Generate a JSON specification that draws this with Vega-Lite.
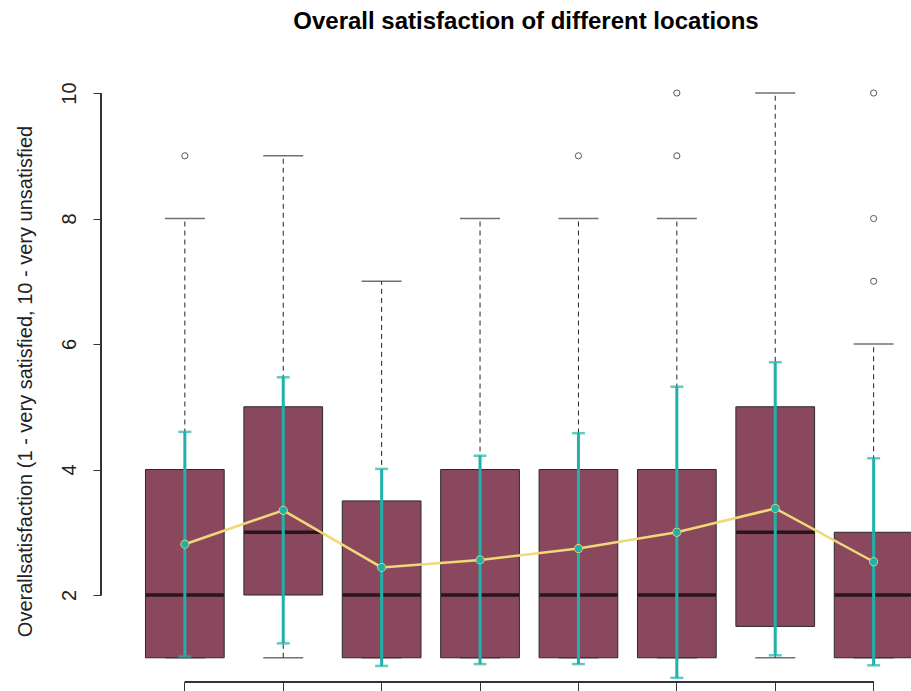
{
  "$schema": "https://vega.github.io/schema/vega-lite/v6.json",
  "autosize": "none",
  "width": 812,
  "height": 612,
  "padding": {"left": 101, "top": 70, "right": 0, "bottom": 20},
  "background": "white",
  "config": {
    "view": {"stroke": null},
    "font": "Liberation Sans"
  },
  "title": {
    "text": "Overall satisfaction of different locations",
    "fontSize": 24,
    "fontWeight": "bold",
    "font": "Liberation Sans",
    "color": "#000000",
    "anchor": "middle",
    "frame": "group",
    "dx": 19,
    "baseline": "alphabetic",
    "offset": 17
  },
  "datasets": {
    "boxes": [
      {"loc": "1", "lo": 1, "q1": 1, "median": 2, "q3": 4, "hi": 8, "mean": 2.81, "sdLo": 1.02, "sdHi": 4.60},
      {"loc": "2", "lo": 1, "q1": 2, "median": 3, "q3": 5, "hi": 9, "mean": 3.35, "sdLo": 1.23, "sdHi": 5.47},
      {"loc": "3", "lo": 1, "q1": 1, "median": 2, "q3": 3.5, "hi": 7, "mean": 2.44, "sdLo": 0.87, "sdHi": 4.01},
      {"loc": "4", "lo": 1, "q1": 1, "median": 2, "q3": 4, "hi": 8, "mean": 2.56, "sdLo": 0.90, "sdHi": 4.22},
      {"loc": "5", "lo": 1, "q1": 1, "median": 2, "q3": 4, "hi": 8, "mean": 2.74, "sdLo": 0.90, "sdHi": 4.58},
      {"loc": "6", "lo": 1, "q1": 1, "median": 2, "q3": 4, "hi": 8, "mean": 3.00, "sdLo": 0.68, "sdHi": 5.32},
      {"loc": "7", "lo": 1, "q1": 1.5, "median": 3, "q3": 5, "hi": 10, "mean": 3.38, "sdLo": 1.04, "sdHi": 5.71},
      {"loc": "8", "lo": 1, "q1": 1, "median": 2, "q3": 3, "hi": 6, "mean": 2.53, "sdLo": 0.88, "sdHi": 4.18}
    ],
    "outliers": [
      {"loc": "1", "value": 9},
      {"loc": "5", "value": 9},
      {"loc": "6", "value": 9},
      {"loc": "6", "value": 10},
      {"loc": "8", "value": 7},
      {"loc": "8", "value": 8},
      {"loc": "8", "value": 10}
    ]
  },
  "data": {"name": "boxes"},
  "encoding": {
    "x": {
      "field": "loc",
      "type": "ordinal",
      "sort": null,
      "scale": {"paddingInner": 0.2, "paddingOuter": 0.226, "align": 1},
      "axis": {
        "title": null,
        "labels": false,
        "domain": false,
        "ticks": true,
        "tickSize": 12,
        "tickColor": "#333333",
        "tickWidth": 1,
        "grid": false
      }
    }
  },
  "layer": [
    {
      "description": "dashed whiskers below and above each box",
      "mark": {"type": "rule", "strokeDash": [5, 4], "color": "#222222", "strokeWidth": 1},
      "encoding": {
        "y": {
          "field": "lo",
          "type": "quantitative",
          "scale": {"domain": [0.614, 10.367], "nice": false, "zero": false},
          "axis": {
            "title": "Overallsatisfaction (1 - very satisfied, 10 - very unsatisfied",
            "titleFontSize": 20,
            "titleFontWeight": "normal",
            "titleColor": "#222222",
            "titleFont": "Liberation Sans",
            "titleX": -70,
            "titleY": 311,
            "titleAngle": -90,
            "titleBaseline": "alphabetic",
            "values": [2, 4, 6, 8, 10],
            "format": "d",
            "labelAngle": -90,
            "labelFontSize": 20,
            "labelColor": "#222222",
            "labelPadding": 14,
            "tickSize": 8,
            "tickColor": "#333333",
            "domain": false,
            "grid": false
          }
        },
        "y2": {"field": "q1"}
      }
    },
    {
      "mark": {"type": "rule", "strokeDash": [5, 4], "color": "#222222", "strokeWidth": 1},
      "encoding": {
        "y": {"field": "q3", "type": "quantitative"},
        "y2": {"field": "hi"}
      }
    },
    {
      "description": "whisker staples",
      "mark": {"type": "tick", "orient": "horizontal", "size": 40, "thickness": 1.5, "color": "#333333"},
      "encoding": {"y": {"field": "lo", "type": "quantitative"}}
    },
    {
      "mark": {"type": "tick", "orient": "horizontal", "size": 40, "thickness": 1.5, "color": "#333333"},
      "encoding": {"y": {"field": "hi", "type": "quantitative"}}
    },
    {
      "description": "interquartile boxes",
      "mark": {"type": "bar", "color": "#8A485E", "stroke": "#2a2a2a", "strokeWidth": 1},
      "encoding": {
        "y": {"field": "q1", "type": "quantitative"},
        "y2": {"field": "q3"}
      }
    },
    {
      "description": "medians",
      "mark": {"type": "tick", "orient": "horizontal", "size": 78, "thickness": 3.5, "color": "#000000"},
      "encoding": {"y": {"field": "median", "type": "quantitative"}}
    },
    {
      "description": "outlying responses",
      "data": {"name": "outliers"},
      "mark": {"type": "point", "shape": "circle", "filled": false, "size": 38, "stroke": "#111111", "strokeWidth": 1},
      "encoding": {"y": {"field": "value", "type": "quantitative"}}
    },
    {
      "description": "mean plus/minus one standard deviation",
      "mark": {"type": "rule", "color": "#20B2AA", "strokeWidth": 3},
      "encoding": {
        "y": {"field": "sdLo", "type": "quantitative"},
        "y2": {"field": "sdHi"}
      }
    },
    {
      "mark": {"type": "tick", "orient": "horizontal", "size": 13, "thickness": 2.5, "color": "#20B2AA"},
      "encoding": {"y": {"field": "sdLo", "type": "quantitative"}}
    },
    {
      "mark": {"type": "tick", "orient": "horizontal", "size": 13, "thickness": 2.5, "color": "#20B2AA"},
      "encoding": {"y": {"field": "sdHi", "type": "quantitative"}}
    },
    {
      "description": "line through the means",
      "mark": {"type": "line", "color": "#F0D878", "strokeWidth": 2.5, "point": {"filled": true, "color": "#F0D878", "size": 80}},
      "encoding": {"y": {"field": "mean", "type": "quantitative"}}
    },
    {
      "mark": {"type": "point", "shape": "circle", "filled": true, "opacity": 1, "size": 55, "color": "#20B2AA"},
      "encoding": {"y": {"field": "mean", "type": "quantitative"}}
    },
    {
      "description": "axis lines spanning the first to last tick",
      "mark": {"type": "rule", "color": "#333333", "strokeWidth": 1},
      "encoding": {
        "x": {"datum": "1"},
        "x2": {"datum": "8"},
        "y": {"datum": 0.614, "type": "quantitative"}
      }
    },
    {
      "mark": {"type": "rule", "color": "#333333", "strokeWidth": 1},
      "encoding": {
        "x": {"value": 0},
        "y": {"datum": 2, "type": "quantitative"},
        "y2": {"datum": 10}
      }
    }
  ]
}
